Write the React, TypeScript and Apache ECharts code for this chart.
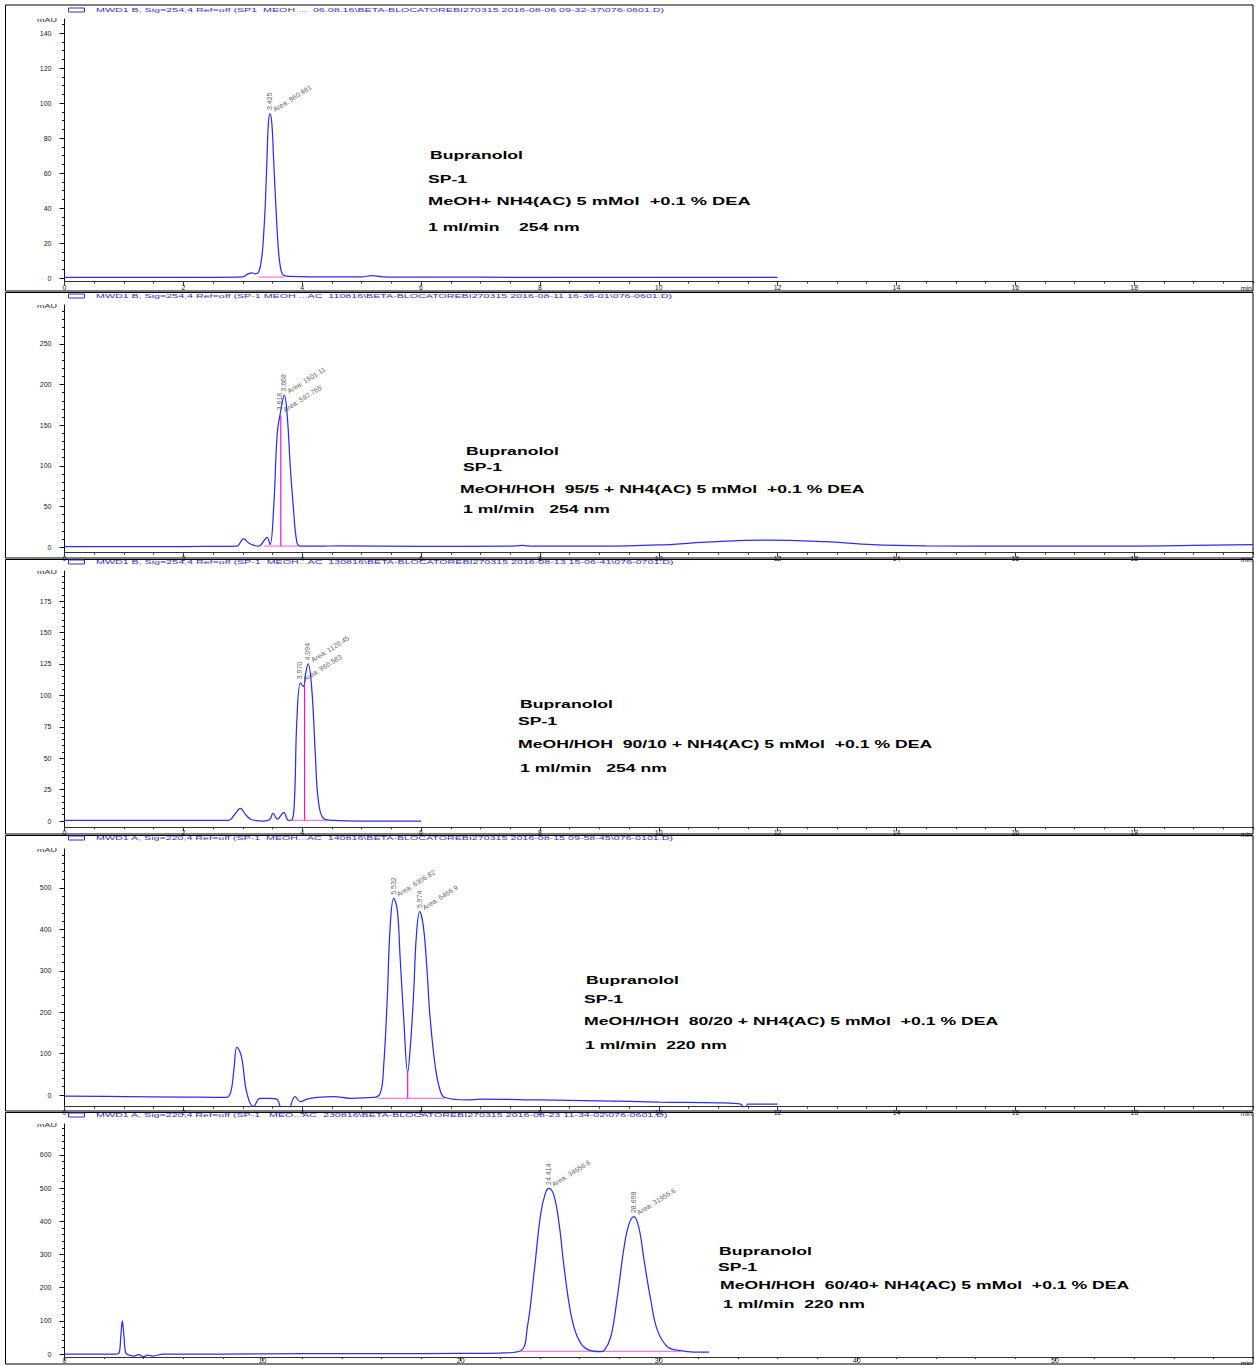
import React, { useEffect, useRef } from "react";
import * as echarts from "echarts";

// ---------------- Panel 1 ----------------
const p1Time = [0, 1, 2, 2.6, 3.0, 3.07, 3.15, 3.21, 3.27, 3.32, 3.35, 3.38, 3.41, 3.43, 3.46, 3.49, 3.52, 3.56, 3.6, 3.64, 3.69, 3.8, 4.5, 5.0, 5.17, 5.35, 6, 8, 10, 12];
const p1Signal = [0.3, 0.3, 0.4, 0.4, 0.6, 2.0, 3.0, 2.4, 3.6, 12, 24, 43, 71, 88, 94, 88, 67, 39, 16, 5, 1.5, 0.9, 0.6, 0.7, 1.3, 0.7, 0.5, 0.4, 0.3, 0.3];
const p1BaseTime = [3.27, 3.69];
const p1BaseLevel = [0.5, 0.5];
const p1DropTime: number[] = [];
const p1DropFrom: number[] = [];
const p1DropTo: number[] = [];
const p1PeakTime = [3.46];
const p1PeakHeight = [94];
const p1PeakRT = ["3.425"];
const p1PeakArea = ["Area: 960.981"];
const p1YLabels = [0, 20, 40, 60, 80, 100, 120, 140];
const p1XLabels = [0, 2, 4, 6, 8, 10, 12, 14, 16, 18];
const p1Header = "MWD1 B, Sig=254,4 Ref=off (SP1  MEOH ...  06.08.16\\BETA-BLOCATOREBI270315 2016-08-06 09-32-37\\076-0601.D)";
const p1Notes = ["Bupranolol", "SP-1", "MeOH+ NH4(AC) 5 mMol  +0.1 % DEA", "1 ml/min    254 nm"];

// ---------------- Panel 2 ----------------
const p2Time = [0, 1, 2, 2.7, 2.9, 3.01, 3.12, 3.27, 3.36, 3.41, 3.46, 3.52, 3.58, 3.63, 3.70, 3.75, 3.80, 3.85, 3.91, 3.97, 4.3, 4.6, 6, 7.5, 7.7, 7.9, 9, 10, 10.8, 11.8, 12.8, 13.6, 14.5, 16, 18, 19, 20];
const p2Signal = [0.5, 0.5, 0.6, 0.8, 1, 10, 4, 1, 8, 12, 3, 49, 140, 164, 187, 160, 98, 50, 6, 1, 1, 1.5, 0.8, 1, 2, 1, 1, 2.5, 6, 8.5, 6.5, 3, 1.5, 1, 1.2, 2, 3];
const p2BaseTime = [3.35, 3.92];
const p2BaseLevel = [1.2, 1.2];
const p2DropTime = [3.64];
const p2DropFrom = [1.2];
const p2DropTo = [162];
const p2PeakTime = [3.63, 3.70];
const p2PeakHeight = [164, 187];
const p2PeakRT = ["3.618", "3.668"];
const p2PeakArea = ["Area: 597.765", "Area: 1501.11"];
const p2YLabels = [0, 50, 100, 150, 200, 250];
const p2XLabels = [0, 2, 4, 6, 8, 10, 12, 14, 16, 18];
const p2Header = "MWD1 B, Sig=254,4 Ref=off (SP-1 MEOH ...AC  110816\\BETA-BLOCATOREBI270315 2016-08-11 16-36-01\\076-0601.D)";
const p2Notes = ["Bupranolol", "SP-1", "MeOH/HOH  95/5 + NH4(AC) 5 mMol  +0.1 % DEA", "1 ml/min   254 nm"];

// ---------------- Panel 3 ----------------
const p3Time = [0, 1, 2, 2.6, 2.76, 2.86, 2.96, 3.05, 3.15, 3.35, 3.45, 3.51, 3.58, 3.69, 3.77, 3.83, 3.87, 3.91, 3.97, 4.02, 4.06, 4.10, 4.16, 4.22, 4.27, 4.36, 4.53, 5, 6];
const p3Signal = [0.5, 0.5, 0.5, 0.5, 0.5, 5, 10, 5, 1, 0, 1, 6, 1.5, 6.6, 0.5, 1, 17, 80, 110, 107, 118, 125, 106, 54, 17, 2, 0.5, 0, 0];
const p3BaseTime = [3.83, 4.42];
const p3BaseLevel = [0.5, 0.5];
const p3DropTime = [4.04];
const p3DropFrom = [0.5];
const p3DropTo = [108];
const p3PeakTime = [3.97, 4.10];
const p3PeakHeight = [110, 125];
const p3PeakRT = ["3.970", "4.094"];
const p3PeakArea = ["Area: 960.583", "Area: 1120.45"];
const p3YLabels = [0, 25, 50, 75, 100, 125, 150, 175];
const p3XLabels = [0, 2, 4, 6, 8, 10, 12, 14, 16, 18];
const p3Header = "MWD1 B, Sig=254,4 Ref=off (SP-1  MEOH...AC  130816\\BETA-BLOCATOREBI270315 2016-08-13 15-06-41\\076-0701.D)";
const p3Notes = ["Bupranolol", "SP-1", "MeOH/HOH  90/10 + NH4(AC) 5 mMol  +0.1 % DEA", "1 ml/min   254 nm"];

// ---------------- Panel 4 ----------------
const p4Time = [0, 1, 2, 2.5, 2.73, 2.80, 2.85, 2.90, 2.95, 2.99, 3.07, 3.18, 3.29, 3.45, 3.57, 3.63, 3.68, 3.75, 3.80, 3.88, 3.97, 4.08, 4.25, 4.53, 4.81, 5.20, 5.315, 5.37, 5.43, 5.48, 5.54, 5.60, 5.65, 5.71, 5.775, 5.82, 5.875, 5.92, 5.977, 6.04, 6.10, 6.15, 6.24, 6.32, 6.40, 6.77, 7, 8, 9, 10, 11, 11.38, 11.44, 11.5, 11.6, 12];
const p4Signal = [-2.5, -4, -5, -5.5, -5.6, 8, 60, 115, 105, 84, 4, -28, -8, -8, -10, -30, -60, -60, -30, -4, -16, -10, -6, -4, -8, -6, 5, 68, 229, 406, 475, 447, 326, 181, 55, 117, 245, 382, 443, 406, 302, 190, 68, 12, -6, -12, -10, -12, -14, -17, -19, -22, -50, -22, -22, -22];
const p4BaseTime = [5.27, 6.4];
const p4BaseLevel = [-8, -8];
const p4DropTime = [5.775];
const p4DropFrom = [-8];
const p4DropTo = [55];
const p4PeakTime = [5.54, 5.977];
const p4PeakHeight = [475, 443];
const p4PeakRT = ["5.532", "5.974"];
const p4PeakArea = ["Area: 6306.82", "Area: 6466.9"];
const p4YLabels = [0, 100, 200, 300, 400, 500];
const p4XLabels = [0, 2, 4, 6, 8, 10, 12, 14, 16, 18];
const p4Header = "MWD1 A, Sig=220,4 Ref=off (SP-1  MEOH...AC  140816\\BETA-BLOCATOREBI270315 2016-08-15 09-58-45\\076-0101.D)";
const p4Notes = ["Bupranolol", "SP-1", "MeOH/HOH  80/20 + NH4(AC) 5 mMol  +0.1 % DEA", "1 ml/min  220 nm"];

// ---------------- Panel 5 ----------------
const p5Time = [0, 1, 2, 2.6, 2.75, 2.85, 2.92, 3.0, 3.08, 3.2, 3.5, 3.75, 4.0, 4.2, 4.45, 5, 8, 12, 16, 20, 22, 23.03, 23.37, 23.70, 24.04, 24.29, 24.46, 24.71, 24.97, 25.22, 25.56, 25.89, 26.31, 27.07, 27.24, 27.58, 27.91, 28.25, 28.50, 28.75, 29.01, 29.26, 29.60, 29.93, 30.44, 31.11, 31.78, 32.54];
const p5Signal = [0, 0, 0, 0, 2, 60, 100, 55, 5, -2, -6, -2, -8, -3, -6, 0, 0, 1, 1, 2, 3, 10, 82, 242, 422, 487, 499, 477, 392, 262, 122, 52, 17, 7, 10, 52, 172, 322, 392, 414, 377, 282, 162, 72, 22, 10, 6, 6];
const p5BaseTime = [23.03, 31.11];
const p5BaseLevel = [8, 8];
const p5DropTime: number[] = [];
const p5DropFrom: number[] = [];
const p5DropTo: number[] = [];
const p5PeakTime = [24.46, 28.75];
const p5PeakHeight = [499, 414];
const p5PeakRT = ["24.414", "28.698"];
const p5PeakArea = ["Area: 34656.6", "Area: 31955.6"];
const p5YLabels = [0, 100, 200, 300, 400, 500, 600];
const p5XLabels = [0, 10, 20, 30, 40, 50];
const p5Header = "MWD1 A, Sig=220,4 Ref=off (SP-1   MEO...AC  230816\\BETA-BLOCATOREBI270315 2016-08-23 11-34-02\\076-0601.D)";
const p5Notes = ["Bupranolol", "SP-1", "MeOH/HOH  60/40+ NH4(AC) 5 mMol  +0.1 % DEA", "1 ml/min  220 nm"];

const PANELS = [
  {
    time: p1Time, signal: p1Signal, baseTime: p1BaseTime, baseLevel: p1BaseLevel,
    dropTime: p1DropTime, dropFrom: p1DropFrom, dropTo: p1DropTo,
    peakTime: p1PeakTime, peakHeight: p1PeakHeight, peakRT: p1PeakRT, peakArea: p1PeakArea,
    yLabels: p1YLabels, xLabels: p1XLabels, header: p1Header, notes: p1Notes,
    layout: { frameTop: 5, frameBottom: 291, headerY: 10, gridTop: 19, gridBottom: 281.5, yMin: -2, yMax: 148, xMax: 20, yMinor: 5, xMinor: 0.5, xLabelMargin: 2, notesX: [430, 428, 428, 428], notesY: [155, 179, 201, 227], notesScale: [1.68, 1.68, 1.74, 1.68] },
  },
  {
    time: p2Time, signal: p2Signal, baseTime: p2BaseTime, baseLevel: p2BaseLevel,
    dropTime: p2DropTime, dropFrom: p2DropFrom, dropTo: p2DropTo,
    peakTime: p2PeakTime, peakHeight: p2PeakHeight, peakRT: p2PeakRT, peakArea: p2PeakArea,
    yLabels: p2YLabels, xLabels: p2XLabels, header: p2Header, notes: p2Notes,
    layout: { frameTop: 292.5, frameBottom: 558, headerY: 296, gridTop: 305, gridBottom: 552.7, yMin: -7, yMax: 298, xMax: 20, yMinor: 10, xMinor: 0.5, xLabelMargin: 2, notesX: [466, 463, 460, 463], notesY: [451, 467, 489, 509], notesScale: [1.68, 1.68, 1.68, 1.68] },
  },
  {
    time: p3Time, signal: p3Signal, baseTime: p3BaseTime, baseLevel: p3BaseLevel,
    dropTime: p3DropTime, dropFrom: p3DropFrom, dropTo: p3DropTo,
    peakTime: p3PeakTime, peakHeight: p3PeakHeight, peakRT: p3PeakRT, peakArea: p3PeakArea,
    yLabels: p3YLabels, xLabels: p3XLabels, header: p3Header, notes: p3Notes,
    layout: { frameTop: 559.5, frameBottom: 834, headerY: 562, gridTop: 571, gridBottom: 827.3, yMin: -5, yMax: 199, xMax: 20, yMinor: 5, xMinor: 0.5, xLabelMargin: 2, notesX: [520, 518, 518, 520], notesY: [704, 721, 744, 768], notesScale: [1.68, 1.68, 1.68, 1.68] },
  },
  {
    time: p4Time, signal: p4Signal, baseTime: p4BaseTime, baseLevel: p4BaseLevel,
    dropTime: p4DropTime, dropFrom: p4DropFrom, dropTo: p4DropTo,
    peakTime: p4PeakTime, peakHeight: p4PeakHeight, peakRT: p4PeakRT, peakArea: p4PeakArea,
    yLabels: p4YLabels, xLabels: p4XLabels, header: p4Header, notes: p4Notes,
    layout: { frameTop: 835.5, frameBottom: 1111, headerY: 838, gridTop: 849, gridBottom: 1106.6, yMin: -28, yMax: 594, xMax: 20, yMinor: 20, xMinor: 0.5, xLabelMargin: 2, notesX: [586, 584, 584, 585], notesY: [980, 999, 1021, 1045], notesScale: [1.68, 1.68, 1.68, 1.68] },
  },
  {
    time: p5Time, signal: p5Signal, baseTime: p5BaseTime, baseLevel: p5BaseLevel,
    dropTime: p5DropTime, dropFrom: p5DropFrom, dropTo: p5DropTo,
    peakTime: p5PeakTime, peakHeight: p5PeakHeight, peakRT: p5PeakRT, peakArea: p5PeakArea,
    yLabels: p5YLabels, xLabels: p5XLabels, header: p5Header, notes: p5Notes,
    layout: { frameTop: 1112.5, frameBottom: 1364, headerY: 1115, gridTop: 1124, gridBottom: 1357, yMin: -9, yMax: 693, xMax: 60, yMinor: 20, xMinor: 2, xLabelMargin: 0, notesX: [719, 718, 720, 723], notesY: [1251, 1267, 1285, 1304], notesScale: [1.68, 1.68, 1.68, 1.68] },
  },
];

const FONT = "'Liberation Sans', Arial, sans-serif";
const TRACE = "#2e2ef2";
const PINK_BASE = "#ff77ee";
const PINK_DROP = "#ee11dd";
const GRID_LEFT = 64.5;
const GRID_RIGHT = 1253;

function steps(from: number, to: number, step: number): number[] {
  const out: number[] = [];
  const n = Math.floor((to - from) / step + 1e-6);
  for (let i = 0; i <= n; i++) out.push(+(from + i * step).toFixed(4));
  return out;
}

function buildOption() {
  const grid: any[] = [];
  const xAxis: any[] = [];
  const yAxis: any[] = [];
  const series: any[] = [];
  const graphic: any[] = [];

  PANELS.forEach((p, i) => {
    const L = p.layout;
    grid.push({
      left: GRID_LEFT,
      top: L.gridTop,
      width: GRID_RIGHT - GRID_LEFT,
      height: L.gridBottom - L.gridTop,
      containLabel: false,
      outerBoundsMode: "none",
    });
    const xMinorVals = steps(0, L.xMax, L.xMinor);
    const yMinorVals = steps(0, L.yMax, L.yMinor);
    xAxis.push({
      type: "value", gridIndex: i, min: 0, max: L.xMax, position: "bottom",
      axisLine: { show: true, onZero: false, lineStyle: { color: "#333", width: 1 } },
      axisTick: { show: true, customValues: p.xLabels, length: 4, lineStyle: { color: "#333" } },
      axisLabel: { show: true, customValues: p.xLabels, fontSize: 7, margin: L.xLabelMargin, color: "#222", fontFamily: FONT },
      splitLine: { show: false },
    });
    xAxis.push({
      type: "value", gridIndex: i, min: 0, max: L.xMax, position: "bottom",
      axisLine: { show: false, onZero: false },
      axisTick: { show: true, customValues: xMinorVals, length: 2, lineStyle: { color: "#333" } },
      axisLabel: { show: false },
      splitLine: { show: false },
    });
    yAxis.push({
      type: "value", gridIndex: i, min: L.yMin, max: L.yMax, position: "left",
      axisLine: { show: true, onZero: false, lineStyle: { color: "#111", width: 1 } },
      axisTick: { show: true, customValues: p.yLabels, length: 5, lineStyle: { color: "#111" } },
      axisLabel: { show: true, customValues: p.yLabels, fontSize: 7, margin: 13, color: "#222", fontFamily: FONT },
      splitLine: { show: false },
    });
    yAxis.push({
      type: "value", gridIndex: i, min: L.yMin, max: L.yMax, position: "left",
      axisLine: { show: false, onZero: false },
      axisTick: { show: true, customValues: yMinorVals, length: 2.5, lineStyle: { color: "#111" } },
      axisLabel: { show: false },
      splitLine: { show: false },
    });

    const xi = 2 * i;
    const yi = 2 * i;

    series.push({
      type: "line", xAxisIndex: xi, yAxisIndex: yi, symbol: "none", silent: true, z: 2,
      lineStyle: { color: PINK_BASE, width: 1.3 },
      data: p.baseTime.map((t, k) => [t, p.baseLevel[k]]),
    });
    p.dropTime.forEach((t, k) => {
      series.push({
        type: "line", xAxisIndex: xi, yAxisIndex: yi, symbol: "none", silent: true, z: 4,
        lineStyle: { color: PINK_DROP, width: 1.2 },
        data: [[t, p.dropFrom[k]], [t, p.dropTo[k]]],
      });
    });
    series.push({
      type: "line", xAxisIndex: xi, yAxisIndex: yi, symbol: "none", silent: true, z: 3,
      smooth: 0.4,
      lineStyle: { color: TRACE, width: 1.25 },
      data: p.time.map((t, k) => [t, p.signal[k]]),
    });
    series.push({
      type: "scatter", xAxisIndex: xi, yAxisIndex: yi, symbol: "circle", symbolSize: 1, silent: true, z: 5,
      itemStyle: { color: "rgba(0,0,0,0)" },
      data: p.peakTime.map((t, k) => ({ value: [t, p.peakHeight[k]], name: p.peakRT[k] })),
      label: { show: true, formatter: "{b}", rotate: 90, position: [0, -3], align: "left", verticalAlign: "middle", fontSize: 7, color: "#333", fontFamily: FONT },
      labelLayout: { hideOverlap: false },
    });
    series.push({
      type: "scatter", xAxisIndex: xi, yAxisIndex: yi, symbol: "circle", symbolSize: 1, silent: true, z: 5,
      itemStyle: { color: "rgba(0,0,0,0)" },
      data: p.peakTime.map((t, k) => ({ value: [t, p.peakHeight[k]], name: p.peakArea[k] })),
      label: { show: true, formatter: "{b}", rotate: 32, position: [4, -3], align: "left", verticalAlign: "middle", fontSize: 7, color: "#333", fontFamily: FONT },
      labelLayout: { hideOverlap: false },
    });

    graphic.push({
      type: "rect", silent: true, z: 1,
      shape: { x: 5.5, y: L.frameTop, width: 1247.5, height: L.frameBottom - L.frameTop },
      style: { fill: "none", stroke: "#000", lineWidth: 1 },
    });
    graphic.push({
      type: "rect", silent: true, z: 10,
      shape: { x: 68.5, y: L.headerY - 2, width: 16, height: 4 },
      style: { fill: "#fff", stroke: "#3333cc", lineWidth: 1 },
    });
    graphic.push({
      type: "text", silent: true, z: 10, x: 96, y: L.headerY, scaleX: 1.78,
      style: { text: p.header, fontSize: 6, fontFamily: FONT, fill: "#3333cc", textAlign: "left", textVerticalAlign: "middle" },
    });
    graphic.push({
      type: "text", silent: true, z: 10, x: 57, y: L.gridTop + 1, scaleX: 1.5,
      style: { text: "mAU", fontSize: 6, fontFamily: FONT, fill: "#222", textAlign: "right", textVerticalAlign: "middle" },
    });
    graphic.push({
      type: "text", silent: true, z: 10, x: 1252, y: L.gridBottom + 6 + L.xLabelMargin / 2,
      style: { text: "min", fontSize: 7, fontFamily: FONT, fill: "#222", textAlign: "right", textVerticalAlign: "middle" },
    });
    p.notes.forEach((txt, k) => {
      graphic.push({
        type: "text", silent: true, z: 10, x: L.notesX[k], y: L.notesY[k], scaleX: L.notesScale[k],
        style: { text: txt, fontSize: 10.5, fontWeight: "bold", fontFamily: FONT, fill: "#000", textAlign: "left", textVerticalAlign: "middle" },
      });
    });
  });

  return {
    animation: false,
    backgroundColor: "#ffffff",
    grid,
    xAxis,
    yAxis,
    series,
    graphic: { elements: graphic },
  };
}

export default function App() {
  const ref = useRef<HTMLDivElement>(null);
  useEffect(() => {
    if (!ref.current) return;
    const chart = echarts.init(ref.current, undefined, { renderer: "svg" });
    chart.setOption(buildOption() as any);
    return () => chart.dispose();
  }, []);
  return (
    <div
      ref={ref}
      style={{ position: "absolute", left: 0, top: 0, width: 1255, height: 1365, background: "#fff" }}
    />
  );
}
